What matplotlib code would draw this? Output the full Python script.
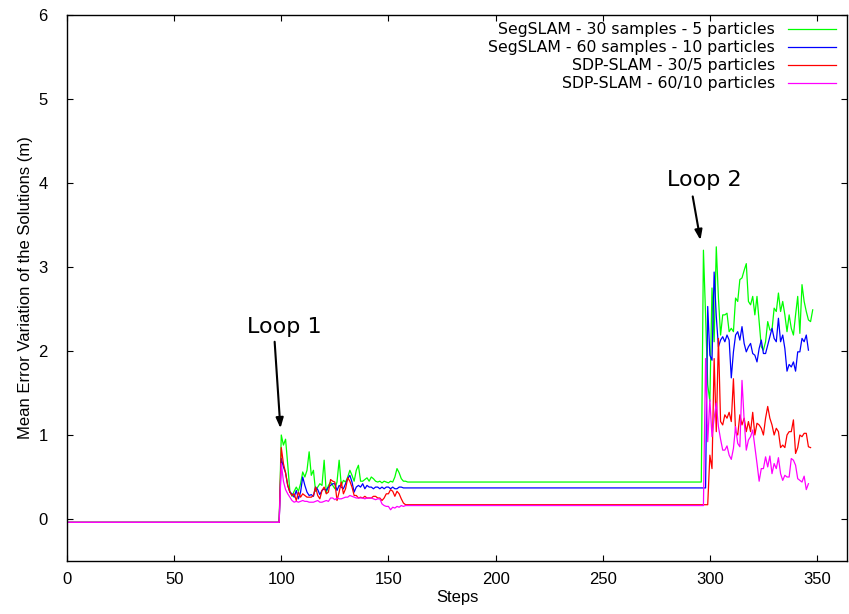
import numpy as np
import matplotlib
matplotlib.use("Agg")
import matplotlib.pyplot as plt

# ---- data -------------------------------------------------------------
series_labels = [
    "SegSLAM - 30 samples - 5 particles",
    "SegSLAM - 60 samples - 10 particles",
    "SDP-SLAM - 30/5 particles",
    "SDP-SLAM - 60/10 particles",
]
series_colors = ["#00ff00", "#0000ff", "#ff0000", "#ff00ff"]

initial_level = -0.04      # value before the first loop closure
loop1_start = 100          # first step of the first loop closure

seg30_loop1 = [1.00, 0.88, 0.95, 0.65, 0.33, 0.27, 0.33, 0.38, 0.33, 0.42,
               0.56, 0.50, 0.58, 0.80, 0.52, 0.58, 0.33, 0.38, 0.42, 0.40,
               0.70, 0.31, 0.40, 0.44, 0.40, 0.36, 0.44, 0.70, 0.40, 0.46,
               0.44, 0.50, 0.58, 0.52, 0.45, 0.58, 0.64, 0.45, 0.45, 0.47,
               0.49, 0.45, 0.50, 0.48, 0.45, 0.44, 0.45, 0.43, 0.45, 0.44,
               0.43, 0.45, 0.44, 0.50, 0.60, 0.55, 0.48, 0.45, 0.45, 0.44,
               0.44]
seg60_loop1 = [0.72, 0.62, 0.55, 0.40, 0.32, 0.30, 0.26, 0.34, 0.24, 0.32,
               0.50, 0.40, 0.32, 0.28, 0.29, 0.27, 0.38, 0.35, 0.29, 0.34,
               0.36, 0.34, 0.38, 0.40, 0.42, 0.42, 0.34, 0.40, 0.38, 0.36,
               0.42, 0.48, 0.52, 0.44, 0.32, 0.38, 0.40, 0.38, 0.42, 0.36,
               0.40, 0.38, 0.38, 0.36, 0.38, 0.38, 0.36, 0.38, 0.36, 0.38,
               0.38, 0.36, 0.38, 0.36, 0.36, 0.38, 0.38, 0.37, 0.37, 0.37,
               0.37]
sdp30_loop1 = [0.85, 0.66, 0.55, 0.40, 0.32, 0.28, 0.30, 0.22, 0.32, 0.26,
               0.30, 0.28, 0.26, 0.26, 0.26, 0.28, 0.38, 0.28, 0.24, 0.34,
               0.38, 0.30, 0.32, 0.47, 0.45, 0.44, 0.22, 0.32, 0.44, 0.30,
               0.36, 0.49, 0.45, 0.38, 0.28, 0.28, 0.25, 0.26, 0.25, 0.27,
               0.25, 0.25, 0.25, 0.27, 0.27, 0.25, 0.25, 0.22, 0.25, 0.30,
               0.30, 0.35, 0.33, 0.27, 0.33, 0.30, 0.24, 0.19, 0.17, 0.17,
               0.17]
sdp60_loop1 = [0.66, 0.45, 0.35, 0.30, 0.26, 0.22, 0.20, 0.21, 0.20, 0.21,
               0.22, 0.21, 0.21, 0.20, 0.20, 0.20, 0.21, 0.22, 0.20, 0.20,
               0.21, 0.22, 0.21, 0.25, 0.25, 0.23, 0.25, 0.24, 0.24, 0.25,
               0.26, 0.26, 0.28, 0.27, 0.26, 0.25, 0.25, 0.25, 0.25, 0.24,
               0.25, 0.25, 0.25, 0.24, 0.23, 0.24, 0.24, 0.18, 0.16, 0.15,
               0.15, 0.11, 0.14, 0.13, 0.15, 0.14, 0.16, 0.15, 0.16, 0.16,
               0.16]

# first step of the second loop closure, per series
loop2_starts = [297, 299, 300, 298]

seg30_loop2 = [3.20, 2.43, 1.60, 1.40, 2.75, 2.11, 3.24, 2.63, 2.19, 2.43,
               2.43, 2.45, 2.23, 2.27, 2.23, 2.63, 2.59, 2.85, 2.87, 2.96,
               3.04, 2.59, 2.55, 2.65, 2.43, 2.65, 2.35, 2.05, 2.01, 2.11,
               2.35, 2.25, 2.25, 2.51, 2.47, 2.69, 2.47, 2.59, 2.43, 2.23,
               2.43, 2.27, 2.19, 2.43, 2.65, 2.21, 2.79, 2.59, 2.47, 2.37,
               2.35, 2.49]
seg60_loop2 = [2.53, 1.95, 1.89, 2.94, 2.41, 2.05, 2.13, 2.17, 2.11, 2.19,
               2.13, 1.68, 1.99, 2.19, 2.23, 2.13, 2.29, 2.09, 1.99, 2.05,
               2.09, 1.97, 1.95, 1.87, 2.03, 2.13, 1.97, 1.97, 2.07, 2.17,
               2.27, 2.15, 2.11, 2.39, 2.11, 2.19, 2.03, 1.76, 1.84, 1.81,
               1.87, 1.76, 1.99, 1.99, 2.15, 2.11, 2.19, 2.01]
sdp30_loop2 = [0.76, 0.60, 1.91, 1.04, 2.15, 1.16, 1.12, 1.24, 1.20, 1.27,
               1.16, 1.67, 1.04, 1.00, 1.24, 1.12, 1.20, 1.04, 1.16, 1.04,
               1.27, 1.00, 1.14, 1.12, 1.08, 1.00, 1.20, 1.34, 1.20, 1.12,
               1.00, 1.08, 1.04, 0.85, 0.88, 0.85, 1.00, 1.04, 1.04, 1.18,
               0.78, 0.85, 1.00, 0.98, 1.02, 1.02, 0.86, 0.85]
sdp60_loop2 = [1.91, 0.92, 1.42, 0.98, 1.20, 1.38, 1.10, 0.95, 0.82, 0.82,
               0.87, 0.76, 0.71, 0.84, 1.10, 0.90, 0.86, 1.65, 1.18, 0.82,
               0.94, 0.98, 1.06, 0.86, 0.66, 0.45, 0.60, 0.60, 0.74, 0.62,
               0.75, 0.54, 0.66, 0.60, 0.73, 0.54, 0.46, 0.52, 0.50, 0.50,
               0.72, 0.70, 0.64, 0.48, 0.46, 0.44, 0.51, 0.35, 0.42]

loop1_values = [seg30_loop1, seg60_loop1, sdp30_loop1, sdp60_loop1]
loop2_values = [seg30_loop2, seg60_loop2, sdp30_loop2, sdp60_loop2]

x_ticks = [0, 50, 100, 150, 200, 250, 300, 350]
y_ticks = [0, 1, 2, 3, 4, 5, 6]

# annotation text and arrow (start, tip) in data coordinates
loop_notes = [
    ("Loop 1", (101.5, 2.29), (96.9, 2.11), (99.6, 1.08)),
    ("Loop 2", (297.4, 4.04), (292.0, 3.84), (295.6, 3.32)),
]


def build_series(loop1, loop2_start, loop2):
    """Steps/values: flat start, first loop, plateau, second loop."""
    n1 = len(loop1)
    xs = [0, loop1_start - 1]
    ys = [initial_level, initial_level]
    xs += list(range(loop1_start, loop1_start + n1))
    ys += list(loop1)
    # plateau keeps the last value of the first loop
    xs += [loop2_start - 1]
    ys += [loop1[-1]]
    xs += list(range(loop2_start, loop2_start + len(loop2)))
    ys += list(loop2)
    return np.array(xs), np.array(ys)


# ---- figure -----------------------------------------------------------
W, H = 849, 614
fig = plt.figure(figsize=(W / 100, H / 100), dpi=100)
ax = fig.add_axes([67 / W, 1 - 561 / H, (847 - 67) / W, (561 - 15) / H])

for lab, col, l1, s2, l2 in zip(series_labels, series_colors,
                                loop1_values, loop2_starts, loop2_values):
    xs, ys = build_series(l1, s2, l2)
    ax.plot(xs, ys, color=col, lw=0.9, label=lab)

ax.set_xlim(0, 364)
ax.set_ylim(-0.5, 6)
ax.set_xticks(x_ticks)
ax.set_yticks(y_ticks)

tick_font = "Liberation Sans"
ax.tick_params(direction="in", top=True, right=True, length=4, width=0.8,
               labelsize=12)
ax.tick_params(axis="y", pad=14)
ax.tick_params(axis="x", pad=8)
for lbl in ax.get_xticklabels() + ax.get_yticklabels():
    lbl.set_fontfamily(tick_font)
for sp in ax.spines.values():
    sp.set_linewidth(1.0)

ax.set_xlabel("Steps", fontsize=12, family=tick_font, labelpad=2)
ax.set_ylabel("Mean Error Variation of the Solutions (m)", fontsize=12,
              family=tick_font, labelpad=4)

# loop closure annotations
for text, txt_pos, start, tip in loop_notes:
    ax.text(*txt_pos, text, ha="center", va="center", fontsize=16,
            family="DejaVu Sans")
    ax.annotate("", xy=tip, xytext=start,
                arrowprops=dict(arrowstyle="-|>,head_length=0.6,head_width=0.22",
                                color="black", lw=1.5, shrinkA=0, shrinkB=0))

leg = ax.legend(loc="upper right", bbox_to_anchor=(1 - 11 / 780, 1 - 7 / 546),
                frameon=False, markerfirst=False, handlelength=3.06,
                handletextpad=0.83, labelspacing=0.2, borderpad=0,
                borderaxespad=0, prop={"family": "DejaVu Sans", "size": 11.3})

fig.savefig("out.png", dpi=100)
